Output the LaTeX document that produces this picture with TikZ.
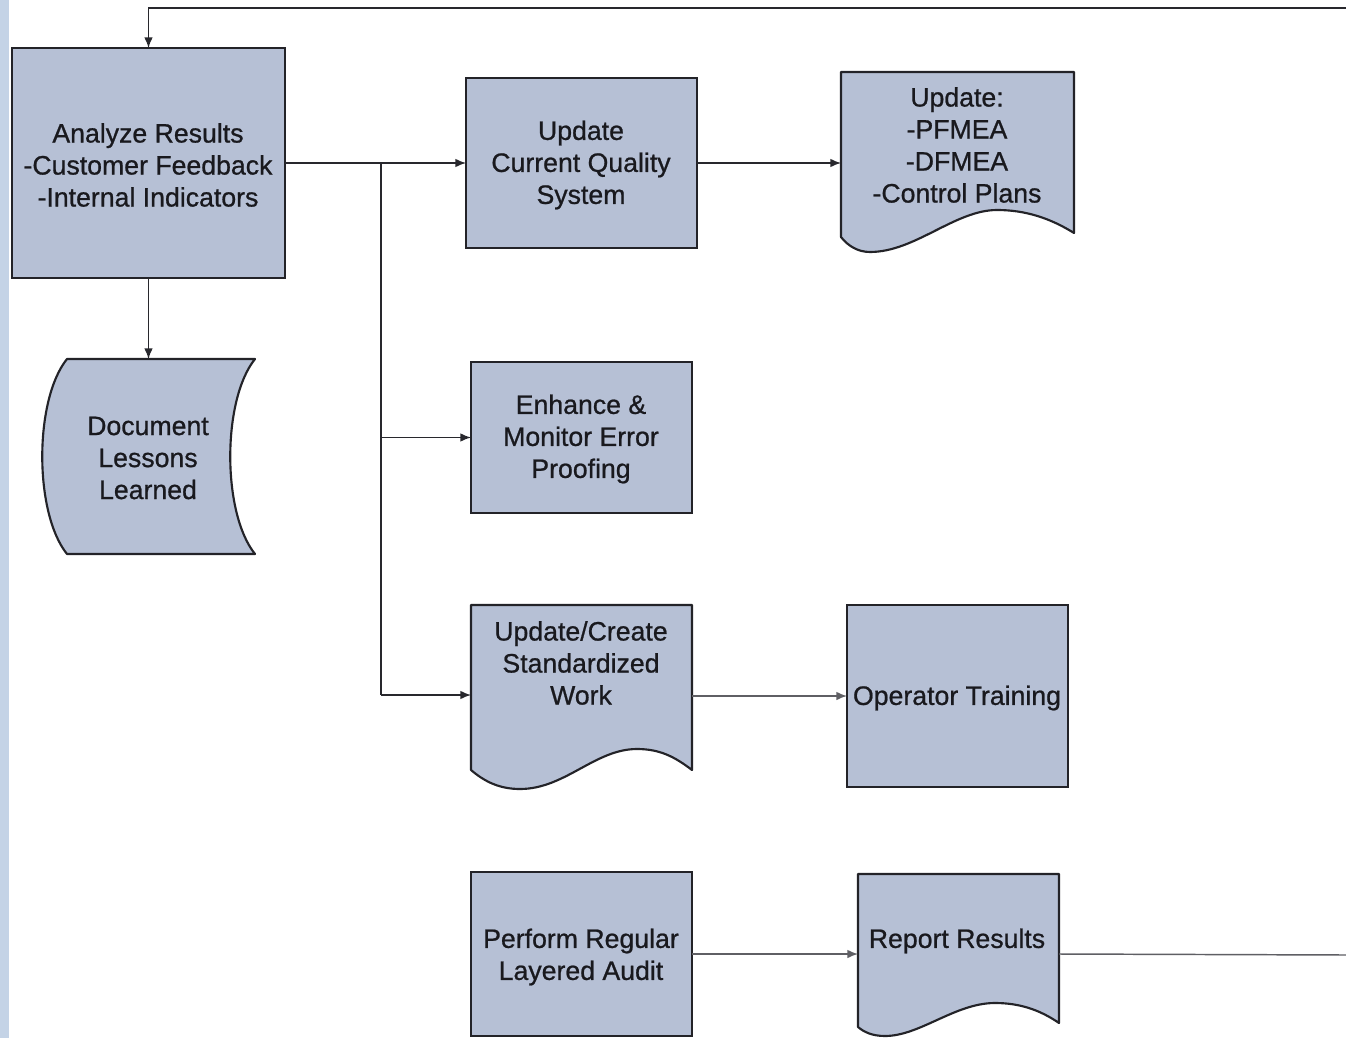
\documentclass[tikz,border=0pt]{standalone}
\usepackage{fontspec}
\setmainfont{Liberation Sans}
\newfontfamily\scanfont[FakeBold=0.8]{Liberation Sans}
\usetikzlibrary{arrows.meta,fit}
\definecolor{boxfill}{RGB}{182,192,213}
\definecolor{edgecol}{RGB}{35,35,40}
\definecolor{conn}{RGB}{40,40,45}
\definecolor{connlight}{RGB}{95,95,100}
\definecolor{scanblue}{RGB}{196,211,230}
\definecolor{txtcol}{RGB}{25,25,30}
\begin{document}
\begin{tikzpicture}[x=0.75pt,y=-0.75pt,
 boxframe/.style={draw=edgecol, fill=boxfill, line width=1.6pt, inner sep=0pt, outer sep=0pt},
 docframe/.style={draw=none, inner sep=0pt, outer sep=0pt},
 docpath/.style={draw=edgecol, fill=boxfill, line width=1.6pt, line join=round},
 lbl/.style={font=\scanfont\fontsize{20}{24}\selectfont, text=txtcol, align=center, inner sep=0pt},
 arr/.style={draw=conn, line width=1.1pt, -{Latex[length=8pt,width=6.5pt]}},
 arrlight/.style={draw=connlight, line width=1.1pt, -{Latex[length=8pt,width=6.5pt]}},
 ln/.style={draw=conn, line width=1.1pt},
 lnlight/.style={draw=connlight, line width=1.1pt},
]
\useasboundingbox (0,0) rectangle (1346,1038);
\fill[white] (0,0) rectangle (1346,1038);
\fill[scanblue] (0,0) rectangle (9,1038);

% plain boxes
\node[boxframe, fit={(12,48) (285,278)}] (an) {};
\node[boxframe, fit={(466,78) (697,248)}] (upd) {};
\node[boxframe, fit={(471,362) (692,513)}] (enh) {};
\node[boxframe, fit={(847,605) (1068,787)}] (op) {};
\node[boxframe, fit={(471,872) (692,1036)}] (perf) {};

% document shapes
\node[docframe, fit={(841,72) (1074,237)}] (pf) {};
\draw[docpath] (841,72) -- (1074,72) -- (1074,233)
  .. controls (1050,218) and (1025,210) .. (997,210)
  .. controls (955,210) and (915,252) .. (870,252)
  .. controls (858,252) and (848,246) .. (841,237) -- cycle;

\node[docframe, fit={(471,605) (692,770)}] (std) {};
\draw[docpath] (471,605) -- (692,605) -- (692,770)
  .. controls (675,757) and (660,749) .. (637,749)
  .. controls (595,749) and (565,789) .. (520,789)
  .. controls (500,789) and (485,782) .. (471,770) -- cycle;

\node[docframe, fit={(858,874) (1059,1023)}] (rep) {};
\draw[docpath] (858,874) -- (1059,874) -- (1059,1023)
  .. controls (1040,1010) and (1020,1003) .. (995,1003)
  .. controls (955,1003) and (920,1036) .. (885,1036)
  .. controls (872,1036) and (864,1032) .. (858,1027) -- cycle;

% stored data shape
\node[docframe, fit={(42,359) (255,554)}] (les) {};
\draw[docpath] (67,359) -- (255,359)
  .. controls (222,400) and (222,513) .. (255,554) -- (67,554)
  .. controls (34,513) and (34,400) .. (67,359) -- cycle;

% labels
\node[lbl] (tan) at (148,165) {Analyze Results\\-Customer Feedback\\-Internal Indicators};
\node[lbl] (tupd) at (581,165) {Update\\Current Quality\\System};
\node[lbl] (tpf) at (957,145) {Update:\\-PFMEA\\-DFMEA\\-Control Plans};
\node[lbl] (tles) at (148,458) {Document\\Lessons\\Learned};
\node[lbl] (tenh) at (581,439) {Enhance \&\\Monitor Error\\Proofing};
\node[lbl] (tstd) at (581,663) {Update/Create\\Standardized\\Work};
\node[lbl] (top) at (957,698) {Operator Training};
\node[lbl] (tperf) at (581,957) {Perform Regular\\Layered Audit};
\node[lbl] (trep) at (957,941) {Report Results};

% connectors
\coordinate (te) at (1346,8);
\draw[arr] (te) -- (te -| an.north) -- (an.north);
\draw[arr] (an.south) -- (les.north);
\draw[arr] (an.east) -- (upd.west);
\coordinate (br) at (381,163);
\coordinate (brEnd) at (381,695);
\draw[ln] (br) -- (brEnd);
\draw[arr] (br |- enh.west) -- (enh.west);
\draw[arr] (brEnd) -- (brEnd -| std.west);
\draw[arr] (upd.east) -- (upd.east -| pf.west);
\draw[arrlight] (std.east |- op.west) -- (op.west);
\draw[arrlight] (perf.east) -- (perf.east -| rep.west);
\coordinate (re) at (1346,955);
\draw[lnlight] (perf.east -| rep.east) -- (re);
\end{tikzpicture}
\end{document}
